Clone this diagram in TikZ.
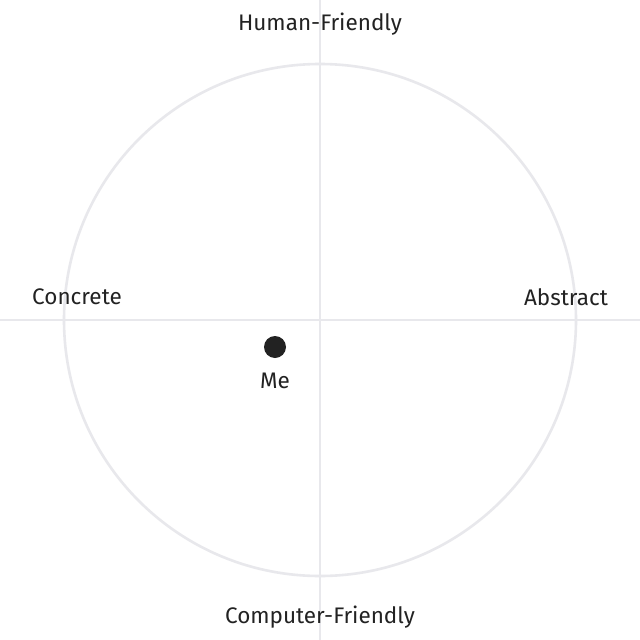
\documentclass[tikz,border=0pt]{standalone}
\usepackage{fontspec}
\setmainfont{Fira Sans}
\definecolor{axisgray}{HTML}{E8E8EC}
\definecolor{ink}{HTML}{222222}
\tikzset{
  axis/.style={draw=axisgray, line width=1.8pt},
  ring/.style={draw=axisgray, line width=2.6pt},
  lbl/.style={text=ink, font=\fontsize{22.5}{26}\selectfont, inner sep=0pt},
  dotmark/.style={circle, fill=ink, minimum size=22pt, inner sep=0pt}
}
\begin{document}
\begin{tikzpicture}[x=1pt,y=-1pt]
\useasboundingbox[fill=white] (0,0) rectangle (640,640);
\coordinate (L) at (0,320);
\coordinate (R) at (640,320);
\coordinate (T) at (320,0);
\coordinate (B) at (320,640);
\draw[axis] (L) -- (R);
\draw[axis] (T) -- (B);
\draw[ring] (320,320) circle[radius=256];
\node[lbl] (hf) at (320,24) {Human-Friendly};
\node[lbl] (cf) at (320,617) {Computer-Friendly};
\node[lbl] (con) at (77,297) {Concrete};
\node[lbl] (abs) at (566,297) {Abstract};
\node[dotmark] (me) at (275,347) {};
\node[lbl] (mel) at (275,381) {Me};
\end{tikzpicture}
\end{document}
